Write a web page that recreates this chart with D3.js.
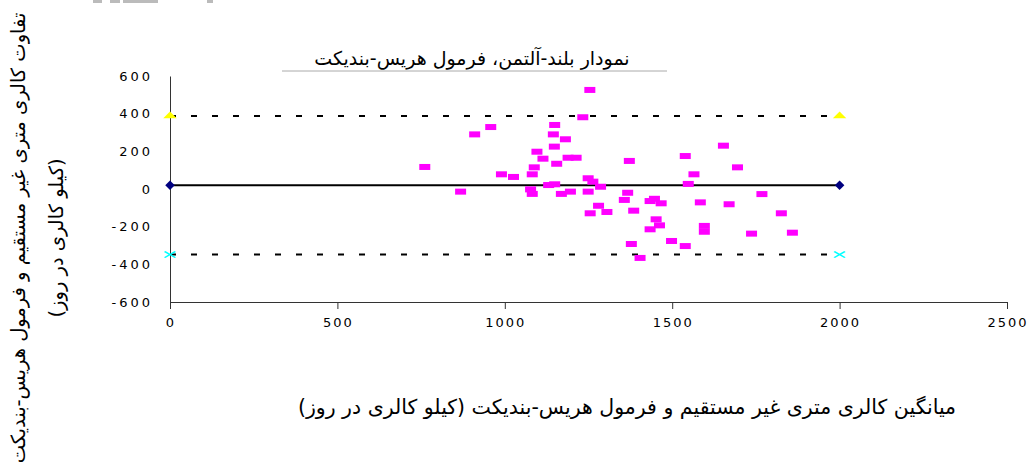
<!DOCTYPE html>
<html>
<head>
<meta charset="utf-8">
<script src="https://cdn.jsdelivr.net/npm/d3@7"></script>
<style>
  body { margin: 0; background: #fff; }
  svg { display: block; }
  .tick text { font-family: "DejaVu Sans", sans-serif; font-size: 13px; letter-spacing: 3px; fill: #000; }
  .x-axis .tick text { letter-spacing: 2px; }
  .fa { font-family: "DejaVu Sans", sans-serif; fill: #000; direction: rtl; }
</style>
</head>
<body>
<svg width="1029" height="465"></svg>
<script>
// --- data ---
const meanX = [761, 868, 910, 958, 990, 1026, 1082, 1088, 1096, 1114, 1149, 1145, 1148, 1181, 1155,
  1189, 1213, 1233, 1254, 1131, 1149, 1077, 1082, 1169, 1196, 1249, 1263, 1286, 1249, 1280,
  1255, 1305, 1367, 1357, 1385, 1378, 1404, 1372, 1447, 1434, 1467, 1452, 1462, 1434, 1498,
  1539, 1539, 1565, 1548, 1584, 1596, 1596, 1653, 1695, 1670, 1737, 1768, 1826, 1859];
const diffY = [117, -14, 290, 329, 78, 64, 78, 115, 198, 161, 340, 290, 225, 264, 134,
  166, 166, 381, 526, 21, 25, -2, -26, -26, -14, 57, 39, 12, -14, -89,
  -129, -122, -20, -58, -115, -292, -366, 149, -52, -64, -76, -161, -193, -214, -276,
  -303, 175, 78, 27, -71, -196, -227, 230, 115, -81, -237, -27, -129, -232];
const lineEnds = [0, 2000];
const meanDiff = 20;
const upperLimit = 388;
const lowerLimit = -348;
const xTicks = [0, 500, 1000, 1500, 2000, 2500];
const yTicks = [-600, -400, -200, 0, 200, 400, 600];

const titleText = "نمودار بلند-آلتمن، فرمول هریس-بندیکت";
const xTitle = "میانگین کالری متری غیر مستقیم و فرمول هریس-بندیکت (کیلو کالری در روز)";
const yTitle1 = "تفاوت کالری متری غیر مستقیم و فرمول هریس-بندیکت";
const yTitle2 = "(کیلو کالری در روز)";

const svg = d3.select("svg");
const x = d3.scaleLinear().domain([0, 2500]).range([170, 1007]);
const y = d3.scaleLinear().domain([-600, 600]).range([302, 76]);

// scraps of cut-off text at the very top
svg.append("g").attr("fill", "#bbb").selectAll("rect")
  .data([[93, 9], [110, 10], [123, 35], [207, 6]])
  .join("rect").attr("x", d => d[0]).attr("y", 0).attr("width", d => d[1]).attr("height", 3);

// title + rule under it
svg.append("text").attr("class", "fa").attr("x", 472).attr("y", 65)
  .attr("text-anchor", "middle").style("font-size", "19px").text(titleText);
svg.append("line").attr("x1", 282).attr("x2", 667).attr("y1", 71).attr("y2", 71)
  .attr("stroke", "#aaa").attr("stroke-width", 1);

// axes
const xAxis = svg.append("g").attr("class", "x-axis").attr("transform", `translate(0,${y(-600)})`)
  .call(d3.axisBottom(x).tickValues(xTicks).tickSize(7).tickPadding(9).tickFormat(d => String(d)));
const yAxis = svg.append("g").attr("transform", `translate(${x(0)},0)`)
  .call(d3.axisLeft(y).tickValues(yTicks).tickSize(0).tickPadding(20).tickFormat(d => String(d)));
[xAxis, yAxis].forEach(a => {
  a.select(".domain").attr("stroke", "#333");
  a.selectAll(".tick line").attr("stroke", "#333");
});
xAxis.selectAll(".tick text").attr("dx", "0.5px");
yAxis.selectAll(".tick text").attr("dx", "3px");

// reference lines
const hLine = (v, dash) => svg.append("line")
  .attr("x1", x(lineEnds[0])).attr("x2", x(lineEnds[1]))
  .attr("y1", y(v)).attr("y2", y(v))
  .attr("stroke", "#000").attr("stroke-width", 2)
  .attr("stroke-dasharray", dash);
hLine(upperLimit, "6,15");
hLine(lowerLimit, "6,15");
hLine(meanDiff, null);

// points
svg.append("g").selectAll("rect")
  .data(meanX.map((m, i) => [m, diffY[i]]))
  .join("rect")
  .attr("x", d => x(d[0]) - 5.5).attr("y", d => y(d[1]) - 3)
  .attr("width", 11).attr("height", 6)
  .attr("fill", "#ff00ff");

// end markers of the reference lines
const markers = [
  { v: meanDiff, type: d3.symbolDiamond, fill: "#000080", stroke: "none" },
  { v: upperLimit, type: d3.symbolTriangle, fill: "#ffff00", stroke: "none" },
  { v: lowerLimit, type: d3.symbolX, fill: "none", stroke: "#00ffff" }
];
markers.forEach(m => {
  svg.append("g").selectAll("path").data(lineEnds).join("path")
    .attr("d", d3.symbol().type(m.type).size(40))
    .attr("transform", d => `translate(${x(d)},${y(m.v)}) scale(1.4,0.8)`)
    .attr("fill", m.fill).attr("stroke", m.stroke).attr("stroke-width", 1.5);
});

// axis titles
svg.append("text").attr("class", "fa").attr("x", 627).attr("y", 414)
  .attr("text-anchor", "middle").style("font-size", "20.5px").text(xTitle);
svg.append("text").attr("class", "fa").attr("transform", "translate(25,238) rotate(-90)")
  .attr("text-anchor", "middle").style("font-size", "19.5px").text(yTitle1);
svg.append("text").attr("class", "fa").attr("transform", "translate(63,238) rotate(-90)")
  .attr("text-anchor", "middle").style("font-size", "19.5px").text(yTitle2);
</script>
</body>
</html>
